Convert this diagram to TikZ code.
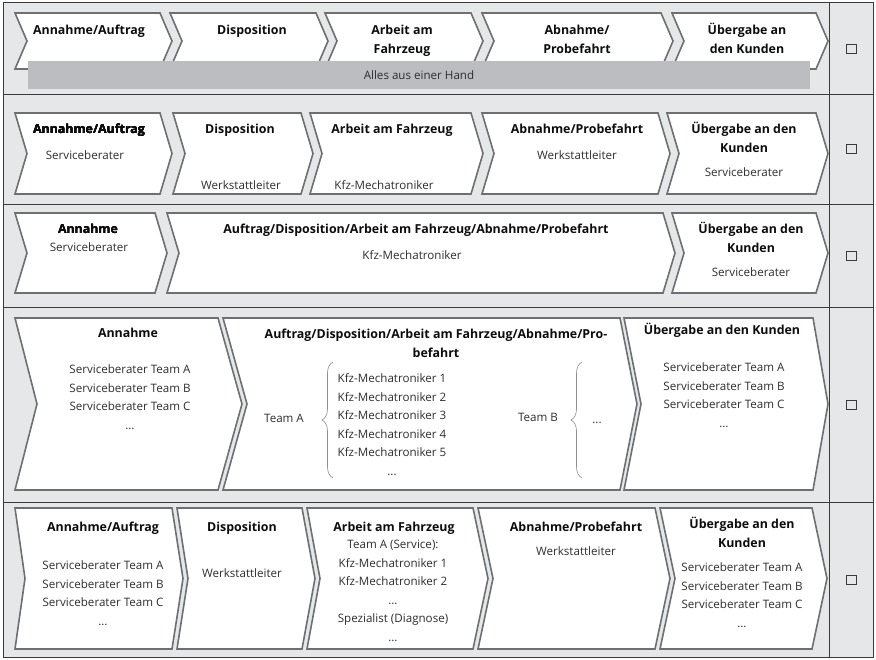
\documentclass[tikz,border=0pt]{standalone}
\usepackage{fontspec}
\setmainfont{Open Sans}
\usetikzlibrary{decorations.pathreplacing}
\definecolor{fond}{HTML}{E6E7E9}
\definecolor{contour}{HTML}{6E6F72}
\definecolor{barre}{HTML}{BCBDC0}
\definecolor{trait}{HTML}{3A3A3A}
\definecolor{texte}{HTML}{2E2E2E}
\begin{document}
\begin{tikzpicture}[x=1pt,y=-1pt]
	% Styles
	\tikzstyle{chevron}=[draw=contour,fill=white,line width=1.6pt,line join=miter]
	\tikzstyle{titre}=[anchor=north,align=center,inner sep=0pt,text=black!95,font=\bfseries\fontsize{12.4}{19}\selectfont]
	\tikzstyle{personne}=[anchor=north,align=center,inner sep=0pt,text=texte,font=\fontsize{11.6}{18.5}\selectfont]
	\tikzstyle{caseacocher}=[draw=trait,line width=0.9pt,minimum width=10pt,minimum height=9pt,inner sep=0pt]
	\tikzstyle{accolade}=[draw=black!45,line width=0.6pt,decorate,decoration={brace,amplitude=11pt}]
	% Chevron : gauche, droite, haut, bas, creux, pointe
	\def\Chevron#1#2#3#4#5#6{\draw[chevron] (#1,#3) -- ({#2-#6},#3) -- (#2,{(#3+#4)/2}) -- ({#2-#6},#4) -- (#1,#4) -- ({#1+#5},{(#3+#4)/2}) -- cycle;}
	% Cadre
	\useasboundingbox (0,0) rectangle (876,660);
	\fill[white] (0,0) rectangle (876,660);
	\draw[trait,fill=fond,line width=1pt] (3,3) rectangle (873,657);
	\foreach \y in {94,204,307,502} \draw[trait,line width=0.9pt] (3,\y) -- (873,\y);
	\draw[trait,line width=0.9pt] (829,3) -- (829,657);
	% Ligne 1
	\foreach \L/\R in {15/172,170/328,325/483,482/673,672/828} \Chevron{\L}{\R}{13}{69}{12}{12}
	\fill[barre] (28,61) rectangle (810,89);
	\node[personne] (hand) at (419,66.5) {\strut Alles aus einer Hand};
	\node[titre] (A1) at (89,21) {\strut Annahme/Auftrag};
	\node[titre] (A2) at (252,21) {\strut Disposition};
	\node[titre] (A3) at (402,21) {\strut Arbeit am\\Fahrzeug};
	\node[titre] (A4) at (577,21) {\strut Abnahme/\\Probefahrt};
	\node[titre] (A5) at (747,21) {\strut Übergabe an\\den Kunden};
	% Ligne 2
	\foreach \L/\R in {15/172,173/313,310/483,482/670,667/828} \Chevron{\L}{\R}{113}{194}{12}{12}
	\node[titre] (B1) at (89,120) {\strut Annahme/Auftrag};
	\node[titre] (B2) at (240,120) {\strut Disposition};
	\node[titre] (B3) at (392,120) {\strut Arbeit am Fahrzeug};
	\node[titre] (B4) at (577,120) {\strut Abnahme/Probefahrt};
	\node[titre] (B5) at (744,120) {\strut Übergabe an den\\Kunden};
	\node[personne] (B1p) at (85,146.5) {\strut Serviceberater};
	\node[personne] (B2p) at (241,176.5) {\strut Werkstattleiter};
	\node[personne] (B3p) at (384,176.5) {\strut Kfz-Mechatroniker};
	\node[personne] (B4p) at (577,146.5) {\strut Werkstattleiter};
	\node[personne] (B5p) at (744,163.5) {\strut Serviceberater};
	% Ligne 3
	\foreach \L/\R in {15/167,167/675,672/828} \Chevron{\L}{\R}{213}{293}{12}{12}
	\node[titre] (C1) at (88,219.7) {\strut Annahme};
	\node[titre] (C2) at (416,219.7) {\strut Auftrag/Disposition/Arbeit am Fahrzeug/Abnahme/Probefahrt};
	\node[titre] (C3) at (751,219.7) {\strut Übergabe an den\\Kunden};
	\node[personne] (C1p) at (89,238.5) {\strut Serviceberater};
	\node[personne] (C2p) at (412,246.5) {\strut Kfz-Mechatroniker};
	\node[personne] (C3p) at (751,263.5) {\strut Serviceberater};
	% Ligne 4
	\Chevron{15}{242}{318}{490}{22}{24}
	\Chevron{223}{637}{318}{490}{24}{17}
	\Chevron{624}{828}{318}{490}{17}{15}
	\node[titre] (D1) at (128,323.7) {\strut Annahme};
	\node[titre] (D2) at (436,324.7) {\strut Auftrag/Disposition/Arbeit am Fahrzeug/Abnahme/Pro-\\befahrt};
	\node[titre] (D3) at (722,320.7) {\strut Übergabe an den Kunden};
	\node[personne] (D1p) at (130,360.5) {\strut Serviceberater Team A\\Serviceberater Team B\\Serviceberater Team C\\\dots};
	\node[personne] (D2a) at (284,409.5) {\strut Team A};
	\node[personne] (D2p) at (392,369.5) {\strut Kfz-Mechatroniker 1\\Kfz-Mechatroniker 2\\Kfz-Mechatroniker 3\\Kfz-Mechatroniker 4\\Kfz-Mechatroniker 5\\...};
	\node[personne] (D2b) at (538,408.5) {\strut Team B};
	\node[personne] (D2q) at (597,410) {\strut ...};
	\node[personne] (D3p) at (724,358.5) {\strut Serviceberater Team A\\Serviceberater Team B\\Serviceberater Team C\\\dots};
	\coordinate (accA1) at (333,478);
	\coordinate (accA2) at (333,362);
	\coordinate (accB1) at (582,478);
	\coordinate (accB2) at (582,362);
	\draw[accolade] (accA1) -- (accA2);
	\draw[accolade] (accB1) -- (accB2);
	% Ligne 5
	\Chevron{15}{183}{508}{649}{10}{11}
	\Chevron{177}{315}{508}{649}{11}{13}
	\Chevron{307}{488}{508}{649}{13}{15}
	\Chevron{478}{670}{508}{649}{15}{15}
	\Chevron{660}{827}{508}{649}{15}{15}
	\node[titre] (E1) at (103,517.7) {\strut Annahme/Auftrag};
	\node[titre] (E2) at (242,517.7) {\strut Disposition};
	\node[titre] (E3) at (394,517.7) {\strut Arbeit am Fahrzeug};
	\node[titre] (E4) at (576,517.7) {\strut Abnahme/Probefahrt};
	\node[titre] (E5) at (742,514.7) {\strut Übergabe an den\\Kunden};
	\node[personne] (E1p) at (103,556.5) {\strut Serviceberater Team A\\Serviceberater Team B\\Serviceberater Team C\\\dots};
	\node[personne] (E2p) at (242,564.5) {\strut Werkstattleiter};
	\node[personne] (E3p) at (393,535.5) {\strut Team A (Service):\\Kfz-Mechatroniker 1\\Kfz-Mechatroniker 2\\\dots\\Spezialist (Diagnose)\\\dots};
	\node[personne] (E4p) at (576,542.5) {\strut Werkstattleiter};
	\node[personne] (E5p) at (742,558.5) {\strut Serviceberater Team A\\Serviceberater Team B\\Serviceberater Team C\\\dots};
	% Cases
	\foreach \y/\n in {48.5/1,149/2,255.5/3,404.5/4,579.5/5} \node[caseacocher] (K\n) at (851,\y) {};
\end{tikzpicture}
\end{document}
